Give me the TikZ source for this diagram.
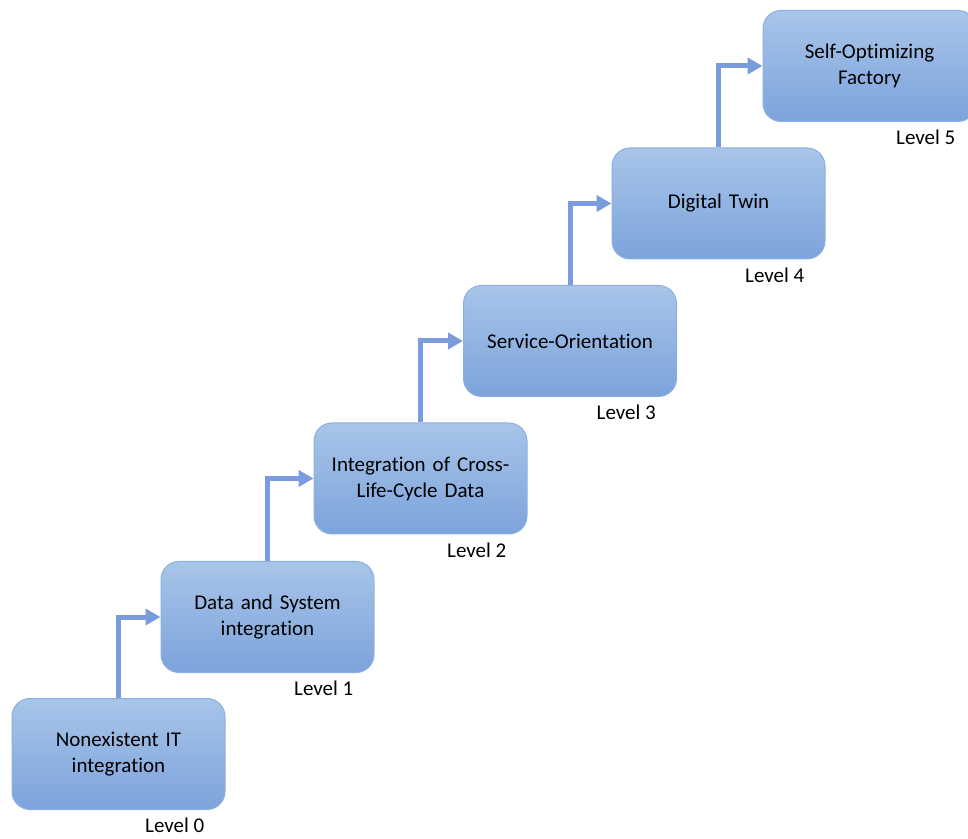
\documentclass[tikz,border=0pt]{standalone}
\usepackage{fontspec}
\setmainfont{Carlito}[Ligatures=NoCommon]
\usetikzlibrary{positioning,arrows.meta}
\definecolor{boxtop}{RGB}{168,197,233}
\definecolor{boxbot}{RGB}{124,163,219}
\definecolor{boxline}{RGB}{140,176,226}
\definecolor{steparrow}{RGB}{122,156,220}
\begin{document}
\begin{tikzpicture}[
  x=1pt, y=1pt,
  lvlbox/.style={rectangle,rounded corners=18pt,draw=boxline,line width=1pt,
    top color=boxtop,bottom color=boxbot,minimum width=213pt,minimum height=111pt,
    align=center,text width=200pt,font=\fontsize{21}{26}\selectfont},
  lvl/.style={inner sep=0pt,font=\fontsize{21}{25}\selectfont},
  up/.style={draw=steparrow,line width=5pt,-{Triangle[length=15pt,width=16pt]}}
]
\useasboundingbox (0,0) rectangle (968,838);
\node[lvlbox] (b0) at (118.5,84) {Nonexistent IT\\integration};
\node[lvlbox] (b1) at (267.5,221) {Data and System\\integration};
\node[lvlbox] (b2) at (420.5,359.5) {Integration of Cross-\\Life-Cycle Data};
\node[lvlbox] (b3) at (570,497) {Service-Orientation};
\node[lvlbox] (b4) at (718.5,634.5) {Digital Twin};
\node[lvlbox] (b5) at (869.5,772) {Self-Optimizing\\Factory};
\node[lvl, below left=8pt and 21pt of b0.south east] (l0) {Level 0};
\node[lvl, below left=8pt and 21pt of b1.south east] (l1) {Level 1};
\node[lvl, below left=8pt and 21pt of b2.south east] (l2) {Level 2};
\node[lvl, below left=8pt and 21pt of b3.south east] (l3) {Level 3};
\node[lvl, below left=8pt and 21pt of b4.south east] (l4) {Level 4};
\node[lvl, below left=8pt and 21pt of b5.south east] (l5) {Level 5};
% steps up
\draw[up] (b0.north) |- (b1.west);
\draw[up] (b1.north) |- (b2.west);
\draw[up] (b2.north) |- (b3.west);
\draw[up] (b3.north) |- (b4.west);
\draw[up] (b4.north) |- (b5.west);
\end{tikzpicture}
\end{document}
